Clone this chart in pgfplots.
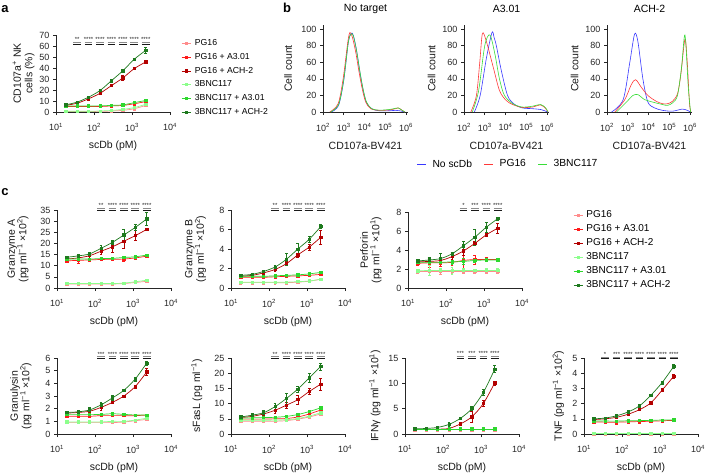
\documentclass[border=0pt]{standalone}
\usepackage{fontspec}
\setmainfont{Liberation Sans}
\usepackage{pgfplots}
\usepackage{pgfplotstable}
\pgfplotsset{compat=1.18}
\pgfkeys{/pgf/number format/assume math mode=true}

\definecolor{cPG}{HTML}{FF8C8C}
\definecolor{cPGA}{HTML}{FF1A1A}
\definecolor{cPGH}{HTML}{B30000}
\definecolor{cBN}{HTML}{8CFF8C}
\definecolor{cBNA}{HTML}{2ED82E}
\definecolor{cBNH}{HTML}{1E7A1E}
\definecolor{hblue}{HTML}{3838FF}
\definecolor{hred}{HTML}{FF3838}
\definecolor{hgreen}{HTML}{38DD38}

\pgfplotsset{
  legend image code/.code={\draw[mark repeat=2,mark phase=2,#1] plot coordinates {(0pt,0pt) (4.5pt,0pt) (9pt,0pt)};},
  myhl/.style={color=#1, no marks, smooth, line width=0.6pt},
  myser/.style={color=#1, mark=square*, mark size=1.15pt, line width=0.7pt, smooth,
    error bars/y dir=both, error bars/y explicit,
    error bars/error bar style={line width=0.5pt, solid},
    error bars/error mark options={rotate=90, mark size=1.4pt, line width=0.5pt}},
}
\tikzset{sigstar/.style={font=\fontsize{6}{6}\selectfont, anchor=south, inner sep=0.2pt, text=black!85}}

\newcommand{\doseaxis}[1]{\begin{axis}[xmode=log, scale only axis, axis lines*=left,
    tick align=outside, major tick length=3pt, minor tick length=0pt,
    enlargelimits=false, clip=false,
    axis line style={line width=0.6pt, black!85},
    tick style={line width=0.6pt, black!85},
    tick label style={font=\fontsize{9}{10}\selectfont, text=black!85},
    xticklabel style={yshift=-4.5pt},
    every axis label/.append style={font=\fontsize{10.5}{11.5}\selectfont, text=black!90},
    xmin=10, xmax=10000, xtick={10,100,1000,10000},
    xticklabels={10\textsuperscript{1},10\textsuperscript{2},10\textsuperscript{3},10\textsuperscript{4}},
    width=114pt, xlabel={scDb (pM)}, ymin=0,
    xlabel style={at={(axis description cs:0.5,0)}, anchor=center, yshift=-34pt}, #1]}

\newcommand{\histaxis}[1]{\begin{axis}[scale only axis, axis lines*=left,
    tick align=outside, major tick length=3pt, minor tick length=0pt,
    enlargelimits=false, clip=false,
    axis line style={line width=0.6pt, black!85},
    tick style={line width=0.6pt, black!85},
    tick label style={font=\fontsize{9}{10}\selectfont, text=black!85},
    xticklabel style={yshift=-4.5pt},
    every axis label/.append style={font=\fontsize{10.5}{11.5}\selectfont, text=black!90},
    width=85pt, height=87pt, xmin=2, xmax=6.1, ymin=0, ymax=105,
    xtick={2,3,4,5,6},
    xticklabels={10\textsuperscript{2},10\textsuperscript{3},10\textsuperscript{4},10\textsuperscript{5},10\textsuperscript{6}},
    ytick={0,20,40,60,80,100}, xlabel={CD107a-BV421}, ylabel={Cell count},
    xlabel style={at={(axis description cs:0.5,0)}, anchor=center, yshift=-34pt},
    title style={at={(axis description cs:0.5,1)}, anchor=center, yshift=10pt, font=\fontsize{10.5}{11.5}\selectfont}, #1]}

% significance bar: lo, hi, center, y grey, y black, stars
\newcommand{\sigb}[6]{%
  \addplot[forget plot, black!45, line width=0.7pt, no marks] coordinates {(#1,#4) (#2,#4)};
  \addplot[forget plot, black!90, line width=0.7pt, no marks] coordinates {(#1,#5) (#2,#5)};
  \node[sigstar] at (axis cs:#3,#4) {#6};}

\newcommand{\sixseries}[1]{%
  \addplot[myser=cPG]  table[x=x, y=y1, y error=e1] {#1};
  \addplot[myser=cPGA] table[x=x, y=y2, y error=e2] {#1};
  \addplot[myser=cPGH] table[x=x, y=y3, y error=e3] {#1};
  \addplot[myser=cBN]  table[x=x, y=y4, y error=e4] {#1};
  \addplot[myser=cBNA] table[x=x, y=y5, y error=e5] {#1};
  \addplot[myser=cBNH] table[x=x, y=y6, y error=e6] {#1};}

% Panel a: CD107a+ NK cells (%)
\pgfplotstableread{
x    y1  y2  y3   y4  y5   y6   e1  e2  e3  e4  e5  e6
18   0.5 5.0 6.0  0.6 5.5  6.5  0.3 0.4 0.5 0.3 0.4 0.5
36   0.5 5.0 8.0  0.6 5.5  9.0  0.3 0.4 0.5 0.3 0.4 0.8
72   0.5 5.0 12.0 0.7 5.5  13.5 0.3 0.4 0.8 0.3 0.4 0.8
144  0.6 5.0 17.0 0.9 5.6  19.5 0.3 0.4 0.8 0.3 0.4 1.0
288  0.9 5.5 24.0 1.4 6.0  28.5 0.3 0.4 1.0 0.3 0.5 1.0
575  1.5 6.0 31.0 2.4 6.5  37.5 0.3 0.5 2.0 0.3 0.5 1.0
1150 3.0 7.5 39.5 4.0 8.5  48.0 0.3 0.5 1.0 0.4 0.6 1.0
2300 6.0 9.5 45.5 7.0 10.5 56.0 0.5 0.8 1.5 0.5 0.8 3.0
}\tabA
% Granzyme A
\pgfplotstableread{
x    y1  y2   y3   y4  y5   y6   e1  e2  e3  e4  e5  e6
18   1.8 12.2 13.0 2.0 13.0 13.8 0.3 0.8 0.5 0.3 0.4 0.5
36   1.8 12.4 13.5 2.0 13.0 14.4 0.3 1.3 1.0 0.3 0.4 0.5
72   1.8 12.6 14.5 2.0 13.0 15.3 0.3 0.5 1.0 0.3 0.4 0.6
144  1.8 12.8 16.5 2.0 13.2 17.8 0.3 0.5 1.5 0.3 0.4 1.2
288  1.8 12.9 18.5 2.0 13.3 20.5 0.3 0.5 2.5 0.3 0.4 1.0
575  2.0 13.0 21.0 2.2 13.7 23.8 0.3 1.0 3.0 0.3 0.5 2.5
1150 2.5 13.5 23.5 2.8 14.0 27.2 0.3 0.6 2.2 0.3 0.5 1.5
2300 3.0 14.3 26.3 3.5 14.8 31.0 0.4 0.5 0.5 0.4 0.5 3.0
}\tabGA
% Granzyme B
\pgfplotstableread{
x    y1   y2   y3   y4   y5   y6   e1   e2   e3   e4   e5   e6
18   0.55 1.10 1.20 0.60 1.20 1.30 0.12 0.15 0.10 0.08 0.08 0.10
36   0.55 1.10 1.30 0.60 1.20 1.40 0.12 0.15 0.10 0.08 0.08 0.10
72   0.55 1.10 1.55 0.60 1.20 1.70 0.12 0.15 0.10 0.08 0.08 0.10
144  0.55 1.15 1.90 0.60 1.25 2.15 0.12 0.12 0.15 0.08 0.08 0.20
288  0.55 1.20 2.50 0.60 1.30 2.95 0.12 0.12 0.20 0.08 0.08 0.60
575  0.60 1.25 3.40 0.65 1.35 4.00 0.12 0.12 0.20 0.08 0.08 0.60
1150 0.70 1.30 4.20 0.72 1.45 5.00 0.10 0.10 0.30 0.08 0.10 0.35
2300 0.90 1.40 5.20 0.90 1.60 6.30 0.10 0.10 0.70 0.08 0.10 0.20
}\tabGB
% Perforin
\pgfplotstableread{
x    y1   y2   y3   y4   y5   y6   e1   e2   e3   e4   e5   e6
18   1.75 2.60 2.75 1.80 2.70 2.85 0.20 0.20 0.10 0.15 0.10 0.10
36   1.75 2.65 2.80 1.85 2.70 2.95 0.40 0.50 0.20 0.50 0.20 0.30
72   1.75 2.65 2.90 1.85 2.70 3.10 0.25 0.40 0.30 0.20 0.20 0.60
144  1.75 2.70 3.30 1.85 2.75 3.60 0.20 0.30 0.30 0.35 0.20 0.20
288  1.75 2.90 3.90 1.85 2.80 4.45 0.20 0.90 0.50 0.20 0.30 0.50
575  1.75 3.00 4.70 1.85 2.90 5.35 0.15 0.50 0.20 0.15 0.20 0.80
1150 1.75 3.00 5.60 1.85 2.95 6.40 0.20 0.20 0.20 0.20 0.10 0.50
2300 1.75 3.00 6.30 1.85 2.95 7.30 0.20 0.10 0.50 0.20 0.10 0.20
}\tabPF
% Granulysin
\pgfplotstableread{
x    y1   y2   y3   y4   y5   y6   e1   e2   e3   e4   e5   e6
18   0.90 1.40 1.65 0.95 1.55 1.70 0.08 0.08 0.05 0.05 0.05 0.05
36   0.90 1.40 1.70 0.95 1.55 1.75 0.08 0.08 0.10 0.05 0.05 0.05
72   0.90 1.40 1.80 0.95 1.55 1.90 0.08 0.08 0.20 0.05 0.05 0.20
144  0.90 1.45 2.10 0.95 1.55 2.30 0.08 0.08 0.25 0.05 0.05 0.20
288  0.90 1.45 2.50 1.00 1.60 2.85 0.08 0.08 0.10 0.05 0.08 0.20
575  0.95 1.45 3.00 1.00 1.55 3.45 0.08 0.08 0.05 0.05 0.05 0.05
1150 1.05 1.45 3.75 1.10 1.50 4.35 0.08 0.08 0.10 0.05 0.05 0.15
2300 1.15 1.50 4.90 1.25 1.50 5.60 0.08 0.08 0.30 0.05 0.05 0.15
}\tabGL
% sFasL
\pgfplotstableread{
x    y1  y2  y3   y4  y5  y6   e1  e2  e3  e4  e5  e6
18   4.2 4.9 5.4  4.5 5.2 5.6  0.3 0.3 0.3 0.3 0.3 0.3
36   4.2 4.9 5.8  4.5 5.3 6.2  0.3 0.3 0.5 0.3 0.3 0.5
72   4.2 4.9 6.6  4.5 5.4 7.0  0.3 0.3 1.0 0.3 0.3 0.7
144  4.2 5.0 7.8  4.6 5.5 9.0  0.3 0.3 1.0 0.3 0.3 1.0
288  4.4 5.1 9.5  4.7 5.8 11.7 0.3 0.3 1.0 0.3 0.3 1.8
575  4.9 5.6 11.3 5.1 6.4 14.8 0.3 0.3 1.5 0.3 0.4 1.0
1150 5.6 6.6 14.0 5.9 7.4 18.5 0.3 0.4 1.0 0.3 0.4 1.5
2300 6.6 7.9 16.4 7.0 8.6 22.2 0.3 0.4 2.0 0.3 0.4 1.2
}\tabSF
% IFNg
\pgfplotstableread{
x    y1   y2   y3   y4   y5   y6   e1   e2   e3   e4   e5   e6
18   0.85 0.90 0.90 0.95 1.00 1.00 0.10 0.10 0.10 0.10 0.10 0.10
36   0.85 0.90 0.90 0.95 1.00 1.10 0.10 0.10 0.10 0.10 0.10 0.10
72   0.85 0.90 0.95 0.95 1.00 1.30 0.10 0.10 0.10 0.10 0.10 0.10
144  0.85 0.90 1.10 0.95 1.00 1.90 0.10 0.10 0.20 0.10 0.10 0.40
288  0.85 0.90 2.00 0.95 1.00 3.10 0.10 0.10 0.20 0.10 0.10 0.20
575  0.85 0.90 3.40 0.95 1.00 5.00 0.10 0.10 1.00 0.10 0.10 0.40
1150 0.85 0.90 6.00 0.95 1.00 8.20 0.10 0.10 0.60 0.10 0.10 0.60
2300 0.85 0.90 10.1 0.95 1.00 12.8 0.10 0.10 0.40 0.10 0.10 0.70
}\tabIF
% TNF
\pgfplotstableread{
x    y1   y2   y3   y4   y5   y6   e1   e2   e3   e4   e5   e6
18   0.02 0.80 0.95 0.03 0.85 1.00 0.02 0.10 0.05 0.02 0.03 0.03
36   0.02 0.78 1.00 0.03 0.85 1.05 0.02 0.10 0.05 0.02 0.03 0.03
72   0.02 0.78 1.10 0.03 0.85 1.20 0.02 0.12 0.05 0.02 0.03 0.05
144  0.02 0.80 1.30 0.03 0.87 1.45 0.02 0.08 0.05 0.02 0.03 0.05
288  0.02 0.82 1.60 0.03 0.88 1.85 0.02 0.08 0.05 0.02 0.03 0.05
575  0.02 0.84 2.05 0.03 0.90 2.55 0.02 0.05 0.05 0.02 0.03 0.08
1150 0.02 0.87 2.90 0.03 0.92 3.40 0.02 0.05 0.10 0.02 0.03 0.10
2300 0.02 0.90 3.80 0.03 0.93 4.45 0.02 0.05 0.12 0.02 0.03 0.12
}\tabTN

\begin{document}
\begin{tikzpicture}
\path[use as bounding box] (0pt,0pt) rectangle (708pt,-474pt);
\node[font=\bfseries\fontsize{13}{14}\selectfont] at (5pt,-9pt) {a};
\node[font=\bfseries\fontsize{13}{14}\selectfont] at (287pt,-8pt) {b};
\node[font=\bfseries\fontsize{13}{14}\selectfont] at (5pt,-192pt) {c};

% ---------------- panel a
\doseaxis{at={(56pt,-112pt)}, anchor=south west, height=77pt, ymax=70,
  ytick={0,10,...,70},
  ylabel={CD107a\textsuperscript{+} NK\\cells (\%)},
  ylabel style={at={(axis description cs:-0.285,0.5)}, anchor=center, align=center},
  legend style={at={(axis description cs:1.07,0.97)}, anchor=north west, draw=none, fill=none,
    font=\fontsize{8.7}{10}\selectfont, row sep=5.6pt, column sep=4pt,
    nodes={inner sep=0pt, text height=6.3pt, text depth=1.8pt}},
  legend cell align=left}
\sixseries{\tabA}
\legend{PG16, PG16 + A3.01, PG16 + ACH-2, 3BNC117, 3BNC117 + A3.01, 3BNC117 + ACH-2}
\sigb{28.6}{45.3}{36}{63.4}{61.8}{**}
\sigb{57.2}{90.6}{72}{63.4}{61.8}{****}
\sigb{114}{181}{144}{63.4}{61.8}{****}
\sigb{229}{363}{288}{63.4}{61.8}{****}
\sigb{457}{724}{575}{63.4}{61.8}{****}
\sigb{913}{1448}{1150}{63.4}{61.8}{****}
\sigb{1827}{2896}{2300}{63.4}{61.8}{****}
\end{axis}

% ---------------- panel b
\histaxis{at={(323pt,-112pt)}, anchor=south west, title={No target},
  ylabel style={at={(axis description cs:-0.41,0.5)}, anchor=center}}
\addplot[myhl=hblue] coordinates {(2.40,0) (2.75,8) (3.0,38) (3.22,84) (3.36,95) (3.47,92) (3.62,74) (3.78,48) (3.94,26) (4.1,11) (4.35,4) (4.7,1.5) (5.2,1.5) (5.5,2) (5.7,1.5) (5.95,0)};
\addplot[myhl=hred] coordinates {(2.33,0) (2.73,10) (2.97,40) (3.2,85) (3.30,96) (3.42,90) (3.58,72) (3.74,48) (3.9,27) (4.06,12) (4.3,4) (4.7,2) (5.19,2.5) (5.5,4) (5.63,5) (5.82,2) (5.95,0)};
\addplot[myhl=hgreen] coordinates {(2.36,0) (2.75,9) (3.0,39) (3.22,84) (3.35,94) (3.46,92) (3.62,74) (3.78,49) (3.94,27) (4.1,12) (4.35,4) (4.7,2.2) (5.19,3) (5.5,4.5) (5.62,5) (5.82,2) (5.95,0)};
\end{axis}

\histaxis{at={(464pt,-112pt)}, anchor=south west, title={A3.01},
  ylabel style={at={(axis description cs:-0.38,0.5)}, anchor=center},
  legend columns=3,
  legend style={at={(axis description cs:0.52,-0.598)}, anchor=center, draw=none, fill=none,
    font=\fontsize{10.3}{12}\selectfont, column sep=4pt,
    /tikz/every even column/.append style={column sep=10pt}}}
\addplot[myhl=hblue] coordinates {(2.5,0) (2.78,20) (3.08,65) (3.35,96) (3.45,90) (3.56,80) (3.8,50) (4.1,20) (4.4,10) (4.8,5) (5.3,4) (5.7,3) (5.94,1) (6.05,0)};
\addplot[myhl=hred] coordinates {(2.33,0) (2.6,20) (2.76,60) (2.89,95) (3.08,85) (3.4,55) (3.71,26) (4.03,14) (4.35,9) (4.8,5.5) (5.3,6) (5.7,8.5) (5.94,4) (6.05,0)};
\addplot[myhl=hgreen] coordinates {(2.4,0) (2.7,25) (3.0,80) (3.25,93) (3.49,70) (3.71,40) (3.95,20) (4.35,10) (4.8,6) (5.3,7) (5.7,9) (5.94,5) (6.05,0)};
\legend{No scDb, PG16, 3BNC117}
\end{axis}

\histaxis{at={(607pt,-112pt)}, anchor=south west, title={ACH-2},
  ylabel style={at={(axis description cs:-0.38,0.5)}, anchor=center}}
\addplot[myhl=hblue] coordinates {(2.22,0) (2.78,15) (3.1,60) (3.33,94) (3.49,85) (3.73,40) (3.97,12) (4.29,5) (4.68,2) (5.16,1) (5.63,3.5) (5.87,2) (6.03,0)};
\addplot[myhl=hred] coordinates {(2.38,0) (2.86,15) (3.17,33) (3.38,39) (3.65,30) (3.97,20) (4.37,13) (4.68,10) (4.92,10) (5.16,13) (5.4,22) (5.56,45) (5.76,88) (5.87,60) (5.98,10) (6.05,0)};
\addplot[myhl=hgreen] coordinates {(2.46,0) (2.94,12) (3.25,20) (3.49,21) (3.81,15) (4.2,12) (4.68,9) (4.92,8) (5.16,11) (5.4,20) (5.6,55) (5.76,93) (5.92,30) (6.03,0)};
\end{axis}

% ---------------- panel c row 1
\doseaxis{at={(57pt,-288pt)}, anchor=south west, height=78pt, ymax=35,
  ytick={0,5,...,35},
  ylabel={Granzyme A\\(pg ml\textsuperscript{−1} ×10\textsuperscript{2})},
  ylabel style={at={(axis description cs:-0.342,0.5)}, anchor=center, align=center}}
\sixseries{\tabGA}
\sigb{114}{181}{144}{35.8}{34.9}{**}
\sigb{229}{363}{288}{35.8}{34.9}{****}
\sigb{457}{724}{575}{35.8}{34.9}{****}
\sigb{913}{1448}{1150}{35.8}{34.9}{****}
\sigb{1827}{2896}{2300}{35.8}{34.9}{****}
\end{axis}

\doseaxis{at={(231pt,-288pt)}, anchor=south west, height=78pt, ymax=8,
  ytick={0,2,...,8},
  ylabel={Granzyme B\\(pg ml\textsuperscript{−1} ×10\textsuperscript{2})},
  ylabel style={at={(axis description cs:-0.31,0.5)}, anchor=center, align=center}}
\sixseries{\tabGB}
\sigb{114}{181}{144}{8.17}{7.97}{**}
\sigb{229}{363}{288}{8.17}{7.97}{****}
\sigb{457}{724}{575}{8.17}{7.97}{****}
\sigb{913}{1448}{1150}{8.17}{7.97}{****}
\sigb{1827}{2896}{2300}{8.17}{7.97}{****}
\end{axis}

\doseaxis{at={(408pt,-288pt)}, anchor=south west, height=76pt, ymax=8,
  ytick={0,2,...,8},
  ylabel={Perforin\\(pg ml\textsuperscript{−1} ×10\textsuperscript{1})},
  ylabel style={at={(axis description cs:-0.326,0.5)}, anchor=center, align=center},
  legend style={at={(axis description cs:1.421,1.047)}, anchor=north west, draw=none, fill=none,
    font=\fontsize{10}{12}\selectfont, row sep=4.7pt, column sep=3.5pt,
    nodes={inner sep=0pt, text height=7.2pt, text depth=2.1pt}},
  legend cell align=left}
\sixseries{\tabPF}
\legend{PG16, PG16 + A3.01, PG16 + ACH-2, 3BNC117, 3BNC117 + A3.01, 3BNC117 + ACH-2}
\sigb{229}{363}{288}{8.39}{8.18}{*}
\sigb{457}{724}{575}{8.39}{8.18}{***}
\sigb{913}{1448}{1150}{8.39}{8.18}{****}
\sigb{1827}{2896}{2300}{8.39}{8.18}{****}
\end{axis}

% ---------------- panel c row 2
\doseaxis{at={(57pt,-434pt)}, anchor=south west, height=76pt, ymax=6,
  ytick={0,1,...,6},
  ylabel={Granulysin\\(pg ml\textsuperscript{−1} ×10\textsuperscript{2})},
  ylabel style={at={(axis description cs:-0.317,0.5)}, anchor=center, align=center}}
\sixseries{\tabGL}
\sigb{114}{181}{144}{6.10}{5.95}{***}
\sigb{229}{363}{288}{6.10}{5.95}{****}
\sigb{457}{724}{575}{6.10}{5.95}{****}
\sigb{913}{1448}{1150}{6.10}{5.95}{****}
\sigb{1827}{2896}{2300}{6.10}{5.95}{****}
\end{axis}

\doseaxis{at={(231pt,-434pt)}, anchor=south west, height=76pt, ymax=25,
  ytick={0,5,...,25},
  ylabel={sFasL (pg ml\textsuperscript{−1})},
  ylabel style={at={(axis description cs:-0.30,0.5)}, anchor=center, align=center}}
\sixseries{\tabSF}
\sigb{114}{181}{144}{25.4}{24.8}{**}
\sigb{229}{363}{288}{25.4}{24.8}{****}
\sigb{457}{724}{575}{25.4}{24.8}{****}
\sigb{913}{1448}{1150}{25.4}{24.8}{****}
\sigb{1827}{2896}{2300}{25.4}{24.8}{****}
\end{axis}

\doseaxis{at={(405pt,-434pt)}, anchor=south west, height=76pt, ymax=15,
  ytick={0,5,10,15},
  ylabel={IFNγ (pg ml\textsuperscript{−1} ×10\textsuperscript{1})},
  ylabel style={at={(axis description cs:-0.263,0.5)}, anchor=center, align=center}}
\sixseries{\tabIF}
\sigb{229}{363}{288}{15.4}{15.0}{***}
\sigb{457}{724}{575}{15.4}{15.0}{***}
\sigb{913}{1448}{1150}{15.4}{15.0}{****}
\sigb{1827}{2896}{2300}{15.4}{15.0}{****}
\end{axis}

\doseaxis{at={(584pt,-434pt)}, anchor=south west, height=76pt, ymax=5,
  ytick={0,1,...,5},
  ylabel={TNF (pg ml\textsuperscript{−1} ×10\textsuperscript{2})},
  ylabel style={at={(axis description cs:-0.225,0.5)}, anchor=center, align=center}}
\sixseries{\tabTN}
\sigb{28.6}{45.3}{36}{5.06}{4.95}{*}
\sigb{57.2}{90.6}{72}{5.06}{4.95}{***}
\sigb{114}{181}{144}{5.06}{4.95}{****}
\sigb{229}{363}{288}{5.06}{4.95}{****}
\sigb{457}{724}{575}{5.06}{4.95}{****}
\sigb{913}{1448}{1150}{5.06}{4.95}{****}
\sigb{1827}{2896}{2300}{5.06}{4.95}{****}
\end{axis}
\end{tikzpicture}
\end{document}
